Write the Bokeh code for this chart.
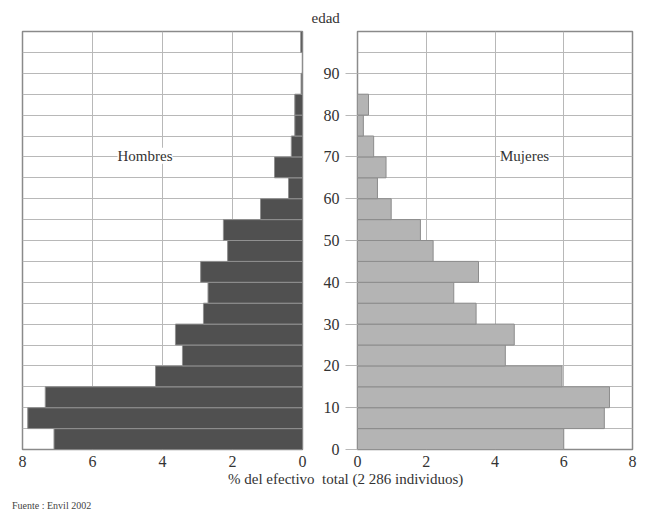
from bokeh.plotting import figure
from bokeh.layouts import row, column
from bokeh.models import Range1d, FixedTicker, Label, Div
from bokeh.embed import file_html
from bokeh.resources import INLINE

# Age groups (start of each 5-year group)
age_start = [0, 5, 10, 15, 20, 25, 30, 35, 40, 45, 50, 55, 60, 65, 70, 75, 80, 85, 90, 95]
# % of total population
men = [7.1, 7.85, 7.35, 4.2, 3.43, 3.63, 2.83, 2.7, 2.91, 2.14,
       2.26, 1.2, 0.4, 0.8, 0.32, 0.22, 0.22, 0.04, 0.0, 0.05]
women = [6.0, 7.18, 7.33, 5.95, 4.3, 4.56, 3.45, 2.8, 3.52, 2.2,
         1.83, 0.98, 0.58, 0.83, 0.47, 0.17, 0.32, 0.0, 0.0, 0.0]
x_ticks = [0, 2, 4, 6, 8]
age_ticks = [0, 10, 20, 30, 40, 50, 60, 70, 80, 90]

mid = [a + 2.5 for a in age_start]
FONT = "Liberation Serif"
GRID = "#b8b8b8"
FRAME = "#8a8a8a"


def style(p):
    p.outline_line_color = FRAME
    p.outline_line_width = 1.5
    p.xgrid.ticker = FixedTicker(ticks=x_ticks)
    p.ygrid.ticker = FixedTicker(ticks=list(range(0, 101, 5)))
    p.xgrid.grid_line_color = GRID
    p.ygrid.grid_line_color = GRID
    p.xaxis.ticker = FixedTicker(ticks=x_ticks)
    p.xaxis.axis_line_color = None
    p.xaxis.major_tick_line_color = None
    p.xaxis.minor_tick_line_color = None
    p.xaxis.major_tick_out = 0
    p.xaxis.major_label_standoff = 6
    p.xaxis.major_label_text_font = FONT
    p.xaxis.major_label_text_font_size = "16px"
    p.xaxis.major_label_text_color = "#333333"
    p.background_fill_color = "white"
    p.border_fill_color = "white"


# Left: men
pl = figure(width=308, height=471, x_range=Range1d(8, 0), y_range=Range1d(0, 100),
            output_backend="svg", toolbar_location=None,
            min_border_left=22, min_border_right=6, min_border_top=31, min_border_bottom=22)
style(pl)
pl.yaxis.visible = False
pl.hbar(y=mid, height=5, left=0, right=men, fill_color="#505050",
        line_color="#909090", line_width=1)
pl.add_layout(Label(x=4.5, y=70.3, text="Hombres", text_align="center", text_baseline="middle",
                    text_font=FONT, text_font_size="15px", text_color="#333333",
                    background_fill_color="white"))

# Right: women
pr = figure(width=334, height=471, x_range=Range1d(0, 8), y_range=Range1d(0, 100),
            output_backend="svg", toolbar_location=None,
            min_border_left=49, min_border_right=10, min_border_top=31, min_border_bottom=22)
style(pr)
pr.title.text = "edad"
pr.title.align = "left"
pr.title.offset = -46
pr.title.text_font = FONT
pr.title.text_font_size = "15px"
pr.title.text_font_style = "normal"
pr.title.text_color = "#333333"
pr.title.standoff = 12
pr.yaxis.ticker = FixedTicker(ticks=age_ticks)
pr.yaxis.axis_line_color = None
pr.yaxis.major_tick_line_color = GRID
pr.yaxis.minor_tick_line_color = None
pr.yaxis.major_tick_out = 12
pr.yaxis.major_tick_in = 0
pr.yaxis.major_label_standoff = 6
pr.yaxis.major_label_text_font = FONT
pr.yaxis.major_label_text_font_size = "16px"
pr.yaxis.major_label_text_color = "#333333"
pr.hbar(y=mid, height=5, left=0, right=women, fill_color="#b4b4b4",
        line_color="#8c8c8c", line_width=1)
pr.add_layout(Label(x=4.86, y=70.3, text="Mujeres", text_align="center", text_baseline="middle",
                    text_font=FONT, text_font_size="15px", text_color="#333333",
                    background_fill_color="white"))

axis_label = Div(text='<span style="font-family: \'Liberation Serif\', serif; font-size: 15px; '
                      'color: #333333; white-space: nowrap; line-height: 16px;">'
                      '% del efectivo&nbsp; total (2 286 individuos)</span>',
                 width=400, height=16, margin=(0, 0, 0, 228))
source = Div(text='<span style="font-family: \'Liberation Serif\', serif; font-size: 10px; '
                  'color: #444444; white-space: nowrap; line-height: 12px;">'
                  'Fuente : Envil 2002</span>',
             width=200, height=12, margin=(10, 0, 0, 12))

layout = column(row(pl, pr, spacing=0), axis_label, source, spacing=0)

open("out.html", "w").write(file_html(layout, INLINE))
